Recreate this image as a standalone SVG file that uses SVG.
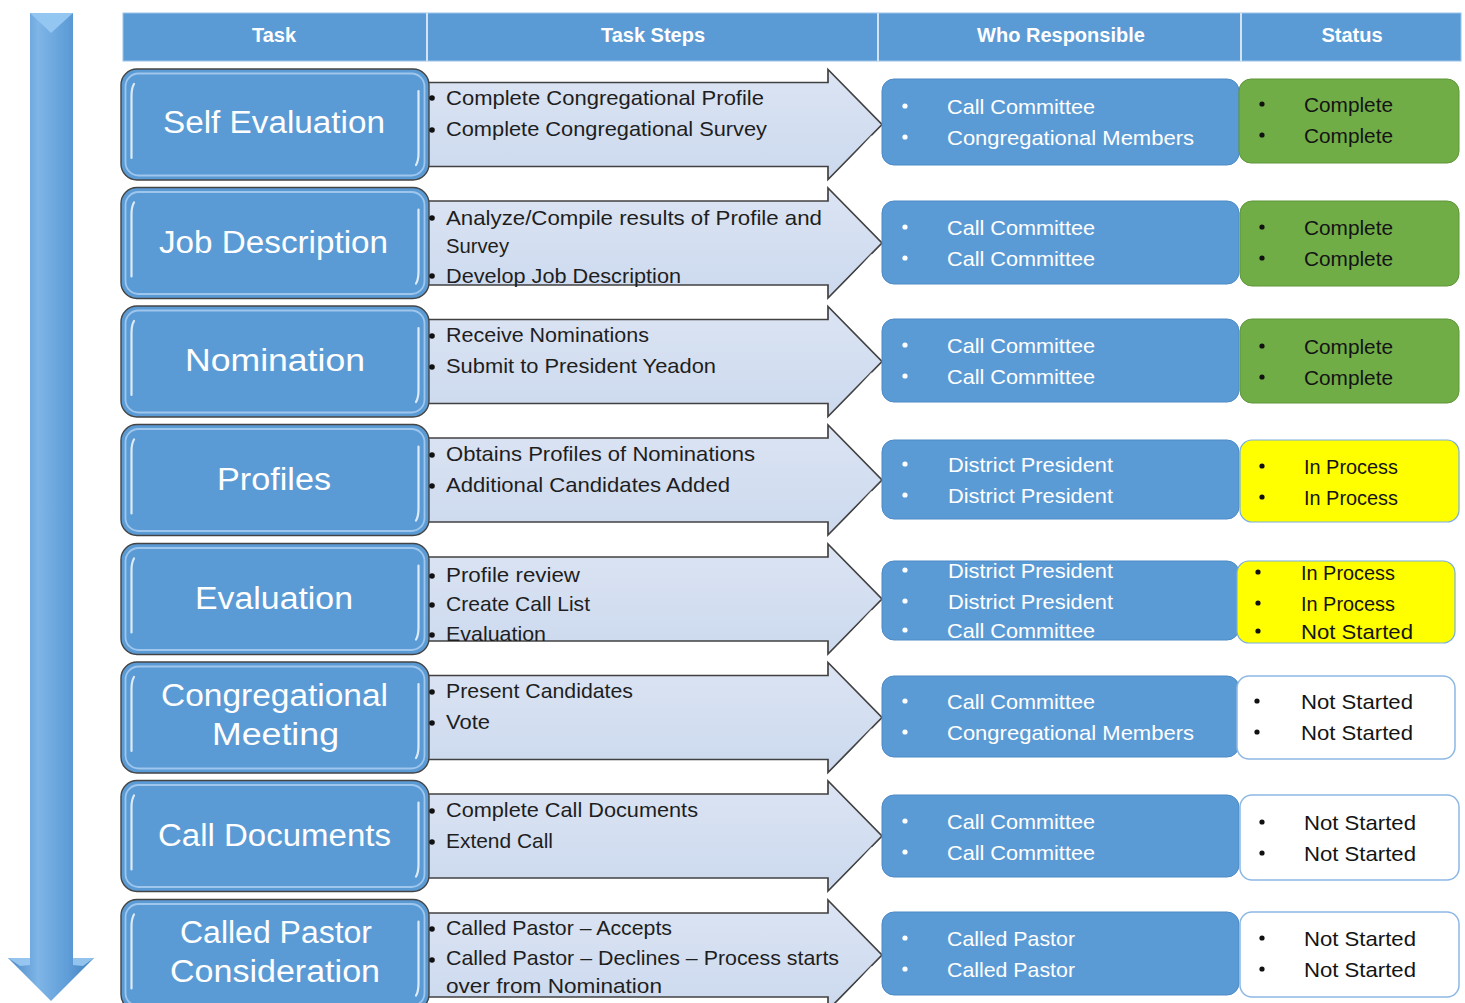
<svg xmlns="http://www.w3.org/2000/svg" width="1465" height="1003" viewBox="0 0 1465 1003">
<defs>
<linearGradient id="shaftGrad" x1="0" y1="0" x2="1" y2="0">
<stop offset="0" stop-color="#4a89c6"/>
<stop offset="0.35" stop-color="#7fb5e7"/>
<stop offset="0.7" stop-color="#5e9dd7"/>
<stop offset="1" stop-color="#4380bc"/>
</linearGradient>
<linearGradient id="chevGrad" x1="0" y1="0" x2="0" y2="1">
<stop offset="0" stop-color="#dbe4f3"/>
<stop offset="1" stop-color="#ccd9ee"/>
</linearGradient>
<style>
.node-outer{fill:#5b9bd5;stroke:#444444;stroke-width:1.4}
.node-inner{fill:none;stroke:#9fc6ec;stroke-width:1.8}
.hl{stroke:#ffffff;stroke-width:2.2;fill:none;stroke-linecap:round;opacity:.8}
.gleam{stroke:#ffffff;stroke-width:3;fill:none;stroke-linecap:round;opacity:.75}
.chev{fill:url(#chevGrad);stroke:#414141;stroke-width:1.7;stroke-linejoin:miter}
.who-box{fill:#5b9bd5;stroke:#4d8ac6;stroke-width:1}
.st-green{fill:#70ad47;stroke:#5e9639;stroke-width:1}
.st-yellow{fill:#ffff00;stroke:#7aaee0;stroke-width:1.2}
.st-white{fill:#ffffff;stroke:#8db8e4;stroke-width:1.5}
.title{font-family:"Liberation Sans",Arial,sans-serif;font-size:31px;fill:#ffffff}
.step{font-family:"Liberation Sans",Arial,sans-serif;font-size:21px;fill:#1e1e1e}
.who{font-family:"Liberation Sans",Arial,sans-serif;font-size:21px;fill:#ffffff}
.stat{font-family:"Liberation Sans",Arial,sans-serif;font-size:21px;fill:#141414}
.hdr{font-family:"Liberation Sans",Arial,sans-serif;font-size:20px;font-weight:bold;fill:#ffffff;text-anchor:middle}
.bk{fill:#111111}
.wb{fill:#ffffff}
</style>
</defs>
<rect width="1465" height="1003" fill="#ffffff"/>

<g id="connectors">
<polygon points="30,13 73,13 73,958 94,958 51,1001 8,958 30,958" fill="url(#shaftGrad)"/>
<polygon points="30,13 73,13 51,33" fill="#93c6f1"/>
<polygon points="8,958 30,958 30,965 20,966" fill="#9fcdf3" opacity="0.85"/>
<polygon points="94,958 73,958 73,965 83,966" fill="#9fcdf3" opacity="0.85"/>
</g>

<g id="header">
<rect x="123" y="13" width="1338" height="48" fill="#5b9bd5" stroke="#9cc3ea" stroke-width="1"/>
<line x1="427" y1="13" x2="427" y2="61" stroke="#d3e3f4" stroke-width="2"/>
<line x1="878" y1="13" x2="878" y2="61" stroke="#d3e3f4" stroke-width="2"/>
<line x1="1241" y1="13" x2="1241" y2="61" stroke="#d3e3f4" stroke-width="2"/>
<text class="hdr" x="274" y="42">Task</text>
<text class="hdr" x="653" y="42">Task Steps</text>
<text class="hdr" x="1061" y="42">Who Responsible</text>
<text class="hdr" x="1352" y="42">Status</text>
</g>

<!-- Row 1 -->
<g id="row-self-evaluation">
<polygon class="chev" points="420,82.5 828,82.5 828,69.5 882,124.5 828,179.5 828,166.5 420,166.5"/>
<path class="gleam" d="M872,137 L842,170"/>
<rect class="node-outer" x="121" y="69" width="308" height="111" rx="16"/>
<rect class="node-inner" x="125.5" y="73.5" width="299" height="102" rx="13"/>
<path class="hl" d="M134,84 Q131.5,88 131.5,96 L131.5,158"/><path class="hl" d="M418.5,91 L418.5,153 Q418.5,161 416,165"/>
<text class="title" x="163" y="133" textLength="222" lengthAdjust="spacingAndGlyphs">Self Evaluation</text>
<circle class="bk" cx="432" cy="98" r="2.8"/><circle class="bk" cx="432" cy="130" r="2.8"/>
<text class="step" x="446" y="105" textLength="318" lengthAdjust="spacingAndGlyphs">Complete  Congregational  Profile</text>
<text class="step" x="446" y="136" textLength="321" lengthAdjust="spacingAndGlyphs">Complete  Congregational  Survey</text>
<rect class="who-box" x="882" y="79" width="357" height="86" rx="12"/>
<circle class="wb" cx="905" cy="106" r="2.6"/><circle class="wb" cx="905" cy="137" r="2.6"/>
<text class="who" x="947" y="114" textLength="148" lengthAdjust="spacingAndGlyphs">Call Committee</text>
<text class="who" x="947" y="145" textLength="247" lengthAdjust="spacingAndGlyphs">Congregational Members</text>
<rect class="st-green" x="1239" y="79" width="220" height="84" rx="12"/>
<circle class="bk" cx="1262" cy="104" r="2.6"/><circle class="bk" cx="1262" cy="135" r="2.6"/>
<text class="stat" x="1304" y="112" textLength="89" lengthAdjust="spacingAndGlyphs">Complete</text>
<text class="stat" x="1304" y="143" textLength="89" lengthAdjust="spacingAndGlyphs">Complete</text>
</g>

<!-- Row 2 -->
<g id="row-job-description">
<polygon class="chev" points="420,201 828,201 828,188 882,243 828,298 828,285 420,285"/>
<path class="gleam" d="M872,255.5 L842,288.5"/>
<rect class="node-outer" x="121" y="187.5" width="308" height="111" rx="16"/>
<rect class="node-inner" x="125.5" y="192" width="299" height="102" rx="13"/>
<path class="hl" d="M134,202.5 Q131.5,206.5 131.5,214.5 L131.5,276.5"/><path class="hl" d="M418.5,209.5 L418.5,271.5 Q418.5,279.5 416,283.5"/>
<text class="title" x="159" y="253" textLength="229" lengthAdjust="spacingAndGlyphs">Job Description</text>
<circle class="bk" cx="432" cy="218" r="2.8"/><circle class="bk" cx="432" cy="276" r="2.8"/>
<text class="step" x="446" y="225" textLength="376" lengthAdjust="spacingAndGlyphs">Analyze/Compile  results of Profile  and</text>
<text class="step" x="446" y="253" textLength="63" lengthAdjust="spacingAndGlyphs">Survey</text>
<text class="step" x="446" y="283" textLength="235" lengthAdjust="spacingAndGlyphs">Develop  Job  Description</text>
<rect class="who-box" x="882" y="201" width="357" height="83" rx="12"/>
<circle class="wb" cx="905" cy="227" r="2.6"/><circle class="wb" cx="905" cy="258" r="2.6"/>
<text class="who" x="947" y="235" textLength="148" lengthAdjust="spacingAndGlyphs">Call Committee</text>
<text class="who" x="947" y="266" textLength="148" lengthAdjust="spacingAndGlyphs">Call Committee</text>
<rect class="st-green" x="1240" y="201" width="219" height="85" rx="12"/>
<circle class="bk" cx="1262" cy="227" r="2.6"/><circle class="bk" cx="1262" cy="258" r="2.6"/>
<text class="stat" x="1304" y="235" textLength="89" lengthAdjust="spacingAndGlyphs">Complete</text>
<text class="stat" x="1304" y="266" textLength="89" lengthAdjust="spacingAndGlyphs">Complete</text>
</g>

<!-- Row 3 -->
<g id="row-nomination">
<polygon class="chev" points="420,319.5 828,319.5 828,306.5 882,361.5 828,416.5 828,403.5 420,403.5"/>
<path class="gleam" d="M872,374 L842,407"/>
<rect class="node-outer" x="121" y="306" width="308" height="111" rx="16"/>
<rect class="node-inner" x="125.5" y="310.5" width="299" height="102" rx="13"/>
<path class="hl" d="M134,321 Q131.5,325 131.5,333 L131.5,395"/><path class="hl" d="M418.5,328 L418.5,390 Q418.5,398 416,402"/>
<text class="title" x="185" y="371" textLength="180" lengthAdjust="spacingAndGlyphs">Nomination</text>
<circle class="bk" cx="432" cy="336" r="2.8"/><circle class="bk" cx="432" cy="367" r="2.8"/>
<text class="step" x="446" y="342" textLength="203" lengthAdjust="spacingAndGlyphs">Receive  Nominations</text>
<text class="step" x="446" y="373" textLength="270" lengthAdjust="spacingAndGlyphs">Submit  to  President  Yeadon</text>
<rect class="who-box" x="882" y="319" width="357" height="83" rx="12"/>
<circle class="wb" cx="905" cy="345" r="2.6"/><circle class="wb" cx="905" cy="376" r="2.6"/>
<text class="who" x="947" y="353" textLength="148" lengthAdjust="spacingAndGlyphs">Call Committee</text>
<text class="who" x="947" y="384" textLength="148" lengthAdjust="spacingAndGlyphs">Call Committee</text>
<rect class="st-green" x="1240" y="319" width="219" height="84" rx="12"/>
<circle class="bk" cx="1262" cy="346" r="2.6"/><circle class="bk" cx="1262" cy="377" r="2.6"/>
<text class="stat" x="1304" y="354" textLength="89" lengthAdjust="spacingAndGlyphs">Complete</text>
<text class="stat" x="1304" y="385" textLength="89" lengthAdjust="spacingAndGlyphs">Complete</text>
</g>

<!-- Row 4 -->
<g id="row-profiles">
<polygon class="chev" points="420,438 828,438 828,425 882,480 828,535 828,522 420,522"/>
<path class="gleam" d="M872,492.5 L842,525.5"/>
<rect class="node-outer" x="121" y="424.5" width="308" height="111" rx="16"/>
<rect class="node-inner" x="125.5" y="429" width="299" height="102" rx="13"/>
<path class="hl" d="M134,439.5 Q131.5,443.5 131.5,451.5 L131.5,513.5"/><path class="hl" d="M418.5,446.5 L418.5,508.5 Q418.5,516.5 416,520.5"/>
<text class="title" x="217" y="490" textLength="114" lengthAdjust="spacingAndGlyphs">Profiles</text>
<circle class="bk" cx="432" cy="455" r="2.8"/><circle class="bk" cx="432" cy="486" r="2.8"/>
<text class="step" x="446" y="461" textLength="309" lengthAdjust="spacingAndGlyphs">Obtains  Profiles  of  Nominations</text>
<text class="step" x="446" y="492" textLength="284" lengthAdjust="spacingAndGlyphs">Additional  Candidates  Added</text>
<rect class="who-box" x="882" y="440" width="357" height="79" rx="12"/>
<circle class="wb" cx="905" cy="464" r="2.6"/><circle class="wb" cx="905" cy="495" r="2.6"/>
<text class="who" x="948" y="472" textLength="165" lengthAdjust="spacingAndGlyphs">District President</text>
<text class="who" x="948" y="503" textLength="165" lengthAdjust="spacingAndGlyphs">District President</text>
<rect class="st-yellow" x="1240" y="440" width="219" height="82" rx="12"/>
<circle class="bk" cx="1262" cy="466" r="2.6"/><circle class="bk" cx="1262" cy="497" r="2.6"/>
<text class="stat" x="1304" y="474" textLength="94" lengthAdjust="spacingAndGlyphs">In Process</text>
<text class="stat" x="1304" y="505" textLength="94" lengthAdjust="spacingAndGlyphs">In Process</text>
</g>

<!-- Row 5 -->
<g id="row-evaluation">
<polygon class="chev" points="420,557 828,557 828,544 882,599 828,654 828,641 420,641"/>
<path class="gleam" d="M872,611.5 L842,644.5"/>
<rect class="node-outer" x="121" y="543.5" width="308" height="111" rx="16"/>
<rect class="node-inner" x="125.5" y="548" width="299" height="102" rx="13"/>
<path class="hl" d="M134,558.5 Q131.5,562.5 131.5,570.5 L131.5,632.5"/><path class="hl" d="M418.5,565.5 L418.5,627.5 Q418.5,635.5 416,639.5"/>
<text class="title" x="195" y="609" textLength="158" lengthAdjust="spacingAndGlyphs">Evaluation</text>
<circle class="bk" cx="432" cy="576" r="2.8"/><circle class="bk" cx="432" cy="605" r="2.8"/><circle class="bk" cx="432" cy="635" r="2.8"/>
<text class="step" x="446" y="582" textLength="134" lengthAdjust="spacingAndGlyphs">Profile  review</text>
<text class="step" x="446" y="611" textLength="144" lengthAdjust="spacingAndGlyphs">Create Call  List</text>
<text class="step" x="446" y="641" textLength="100" lengthAdjust="spacingAndGlyphs">Evaluation</text>
<rect class="who-box" x="882" y="561" width="357" height="79" rx="12"/>
<circle class="wb" cx="905" cy="570" r="2.6"/><circle class="wb" cx="905" cy="601" r="2.6"/><circle class="wb" cx="905" cy="630" r="2.6"/>
<text class="who" x="948" y="578" textLength="165" lengthAdjust="spacingAndGlyphs">District President</text>
<text class="who" x="948" y="609" textLength="165" lengthAdjust="spacingAndGlyphs">District President</text>
<text class="who" x="947" y="638" textLength="148" lengthAdjust="spacingAndGlyphs">Call Committee</text>
<rect class="st-yellow" x="1237" y="561" width="218" height="82" rx="12"/>
<circle class="bk" cx="1258" cy="572" r="2.6"/><circle class="bk" cx="1258" cy="603" r="2.6"/><circle class="bk" cx="1258" cy="631" r="2.6"/>
<text class="stat" x="1301" y="580" textLength="94" lengthAdjust="spacingAndGlyphs">In Process</text>
<text class="stat" x="1301" y="611" textLength="94" lengthAdjust="spacingAndGlyphs">In Process</text>
<text class="stat" x="1301" y="639" textLength="112" lengthAdjust="spacingAndGlyphs">Not Started</text>
</g>

<!-- Row 6 -->
<g id="row-congregational-meeting">
<polygon class="chev" points="420,675.5 828,675.5 828,662.5 882,717.5 828,772.5 828,759.5 420,759.5"/>
<path class="gleam" d="M872,730 L842,763"/>
<rect class="node-outer" x="121" y="662" width="308" height="111" rx="16"/>
<rect class="node-inner" x="125.5" y="666.5" width="299" height="102" rx="13"/>
<path class="hl" d="M134,677 Q131.5,681 131.5,689 L131.5,751"/><path class="hl" d="M418.5,684 L418.5,746 Q418.5,754 416,758"/>
<text class="title" x="161" y="706" textLength="227" lengthAdjust="spacingAndGlyphs">Congregational</text>
<text class="title" x="212" y="745" textLength="127" lengthAdjust="spacingAndGlyphs">Meeting</text>
<circle class="bk" cx="432" cy="692" r="2.8"/><circle class="bk" cx="432" cy="723" r="2.8"/>
<text class="step" x="446" y="698" textLength="187" lengthAdjust="spacingAndGlyphs">Present  Candidates</text>
<text class="step" x="446" y="729" textLength="44" lengthAdjust="spacingAndGlyphs">Vote</text>
<rect class="who-box" x="882" y="676" width="357" height="81" rx="12"/>
<circle class="wb" cx="905" cy="701" r="2.6"/><circle class="wb" cx="905" cy="732" r="2.6"/>
<text class="who" x="947" y="709" textLength="148" lengthAdjust="spacingAndGlyphs">Call Committee</text>
<text class="who" x="947" y="740" textLength="247" lengthAdjust="spacingAndGlyphs">Congregational Members</text>
<rect class="st-white" x="1237" y="676" width="218" height="83" rx="12"/>
<circle class="bk" cx="1257" cy="701" r="2.6"/><circle class="bk" cx="1257" cy="732" r="2.6"/>
<text class="stat" x="1301" y="709" textLength="112" lengthAdjust="spacingAndGlyphs">Not Started</text>
<text class="stat" x="1301" y="740" textLength="112" lengthAdjust="spacingAndGlyphs">Not Started</text>
</g>

<!-- Row 7 -->
<g id="row-call-documents">
<polygon class="chev" points="420,794 828,794 828,781 882,836 828,891 828,878 420,878"/>
<path class="gleam" d="M872,848.5 L842,881.5"/>
<rect class="node-outer" x="121" y="780.5" width="308" height="111" rx="16"/>
<rect class="node-inner" x="125.5" y="785" width="299" height="102" rx="13"/>
<path class="hl" d="M134,795.5 Q131.5,799.5 131.5,807.5 L131.5,869.5"/><path class="hl" d="M418.5,802.5 L418.5,864.5 Q418.5,872.5 416,876.5"/>
<text class="title" x="158" y="846" textLength="233" lengthAdjust="spacingAndGlyphs">Call Documents</text>
<circle class="bk" cx="432" cy="811" r="2.8"/><circle class="bk" cx="432" cy="842" r="2.8"/>
<text class="step" x="446" y="817" textLength="252" lengthAdjust="spacingAndGlyphs">Complete  Call  Documents</text>
<text class="step" x="446" y="848" textLength="107" lengthAdjust="spacingAndGlyphs">Extend  Call</text>
<rect class="who-box" x="882" y="795" width="357" height="82" rx="12"/>
<circle class="wb" cx="905" cy="821" r="2.6"/><circle class="wb" cx="905" cy="852" r="2.6"/>
<text class="who" x="947" y="829" textLength="148" lengthAdjust="spacingAndGlyphs">Call Committee</text>
<text class="who" x="947" y="860" textLength="148" lengthAdjust="spacingAndGlyphs">Call Committee</text>
<rect class="st-white" x="1240" y="795" width="219" height="85" rx="12"/>
<circle class="bk" cx="1262" cy="822" r="2.6"/><circle class="bk" cx="1262" cy="853" r="2.6"/>
<text class="stat" x="1304" y="830" textLength="112" lengthAdjust="spacingAndGlyphs">Not Started</text>
<text class="stat" x="1304" y="861" textLength="112" lengthAdjust="spacingAndGlyphs">Not Started</text>
</g>

<!-- Row 8 -->
<g id="row-called-pastor-consideration">
<polygon class="chev" points="420,913 828,913 828,900 882,955 828,1010 828,997 420,997"/>
<path class="gleam" d="M872,967.5 L842,1000.5"/>
<rect class="node-outer" x="121" y="899.5" width="308" height="111" rx="16"/>
<rect class="node-inner" x="125.5" y="904" width="299" height="102" rx="13"/>
<path class="hl" d="M134,914.5 Q131.5,918.5 131.5,926.5 L131.5,988.5"/><path class="hl" d="M418.5,921.5 L418.5,983.5 Q418.5,991.5 416,995.5"/>
<text class="title" x="180" y="943" textLength="192" lengthAdjust="spacingAndGlyphs">Called Pastor</text>
<text class="title" x="170" y="982" textLength="210" lengthAdjust="spacingAndGlyphs">Consideration</text>
<circle class="bk" cx="432" cy="929" r="2.8"/><circle class="bk" cx="432" cy="960" r="2.8"/>
<text class="step" x="446" y="935" textLength="226" lengthAdjust="spacingAndGlyphs">Called Pastor – Accepts</text>
<text class="step" x="446" y="965" textLength="393" lengthAdjust="spacingAndGlyphs">Called Pastor – Declines – Process starts</text>
<text class="step" x="446" y="993" textLength="216" lengthAdjust="spacingAndGlyphs">over from  Nomination</text>
<rect class="who-box" x="882" y="912" width="357" height="83" rx="12"/>
<circle class="wb" cx="905" cy="938" r="2.6"/><circle class="wb" cx="905" cy="969" r="2.6"/>
<text class="who" x="947" y="946" textLength="128" lengthAdjust="spacingAndGlyphs">Called Pastor</text>
<text class="who" x="947" y="977" textLength="128" lengthAdjust="spacingAndGlyphs">Called Pastor</text>
<rect class="st-white" x="1240" y="912" width="219" height="85" rx="12"/>
<circle class="bk" cx="1262" cy="938" r="2.6"/><circle class="bk" cx="1262" cy="969" r="2.6"/>
<text class="stat" x="1304" y="946" textLength="112" lengthAdjust="spacingAndGlyphs">Not Started</text>
<text class="stat" x="1304" y="977" textLength="112" lengthAdjust="spacingAndGlyphs">Not Started</text>
</g>
</svg>
